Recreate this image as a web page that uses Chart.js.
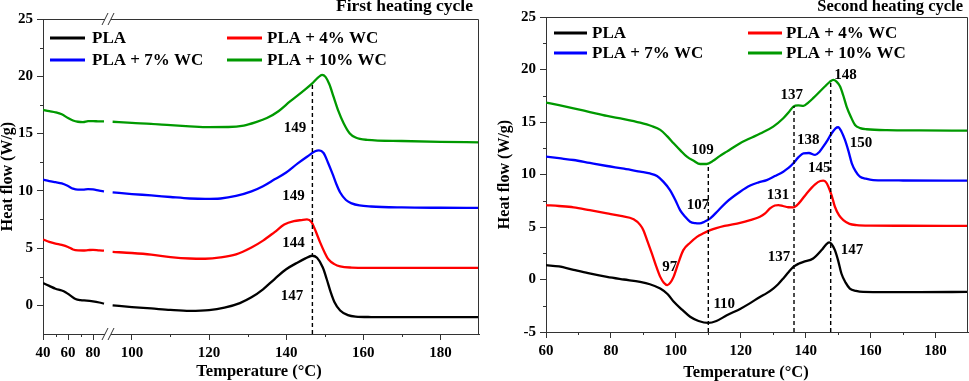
<!DOCTYPE html>
<html>
<head>
<meta charset="utf-8">
<script src="https://cdn.jsdelivr.net/npm/chart.js@4.4.1/dist/chart.umd.min.js"></script>
<style>
  body { margin: 0; background: #fff; width: 969px; height: 381px; position: relative; overflow: hidden; }
  #first { position: absolute; left: 0; top: 0; }
  #second { position: absolute; left: 484px; top: 0; }
</style>
</head>
<body>
<canvas id="first" width="484" height="381"></canvas>
<canvas id="second" width="485" height="381"></canvas>
<script>
// heat flow (W/g) against temperature (°C)

// first heating cycle
const firstPLA = [[40,1.95],[45,1.7],[50,1.45],[55,1.3],[58,1.15],[62,0.85],[66,0.55],[70,0.45],[75,0.42],[80,0.35],[85,0.25],[88.8,0.15],
  [95,0.0],[100,-0.15],[105,-0.27],[110,-0.4],[115,-0.48],[120,-0.42],[124,-0.2],[128,0.2],[131,0.7],[134,1.4],[137,2.3],[140,3.15],[143,3.75],[145,4.1],[146.7,4.33],[148,4.15],[149.5,3.3],[150.5,2.3],[151.5,1.2],[152.5,0.3],[154,-0.45],[156,-0.85],[158,-0.98],[162,-1.02],[170,-1.03],[180,-1.03],[190,-1.03]];
const firstWC4 = [[40,5.75],[45,5.55],[50,5.4],[55,5.28],[60,5.1],[64,4.88],[68,4.8],[72,4.79],[76,4.82],[80,4.85],[85,4.8],[88.8,4.78],
  [95,4.67],[100,4.57],[105,4.43],[110,4.22],[115,4.09],[119,4.07],[123,4.18],[127,4.45],[131,5.05],[134,5.65],[137,6.4],[139.5,7.05],[142,7.35],[144,7.45],[145.4,7.5],[146.5,7.3],[147.5,6.6],[148.8,5.5],[150,4.6],[151,4.0],[152.5,3.6],[154,3.4],[157,3.3],[161,3.28],[170,3.28],[180,3.28],[190,3.28]];
const firstWC7 = [[40,10.98],[45,10.85],[50,10.75],[55,10.65],[60,10.42],[64,10.19],[68,10.1],[72,10.1],[76,10.15],[80,10.12],[85,10.02],[88.8,9.96],
  [95,9.87],[100,9.72],[105,9.6],[110,9.46],[115,9.33],[119,9.29],[123,9.33],[127,9.55],[131,9.95],[134,10.4],[137,11.0],[140,11.6],[143,12.4],[145.5,13.0],[147.5,13.45],[148.5,13.53],[149.7,13.3],[150.8,12.5],[152,11.5],[153,10.6],[154,9.85],[155.5,9.2],[157,8.9],[159,8.72],[162,8.63],[170,8.55],[180,8.52],[190,8.51]];
const firstWC10 = [[40,17.07],[45,16.95],[50,16.85],[55,16.68],[60,16.35],[64,16.14],[68,16.03],[72,16.0],[76,16.08],[80,16.09],[85,16.06],[88.8,16.06],
  [95,16.03],[100,15.93],[105,15.85],[110,15.73],[115,15.63],[120,15.56],[125,15.57],[129,15.7],[132,15.98],[135,16.35],[138,16.95],[141,17.8],[144,18.6],[146.7,19.35],[148.3,19.9],[149.3,20.12],[150.2,19.95],[151.2,19.3],[152.3,18.2],[153.5,17.0],[154.9,15.9],[156.5,15.0],[158,14.65],[161,14.45],[170,14.35],[180,14.28],[190,14.23]];

// second heating cycle
const secondPLA = [[60,1.36],[64,1.25],[68.5,0.92],[73,0.6],[78.8,0.25],[84,0.0],[89,-0.23],[92,-0.45],[95.2,-0.86],[97.5,-1.4],[99.3,-2.1],[102,-2.9],[104.4,-3.55],[107,-3.95],[110,-4.14],[112.5,-3.95],[115.7,-3.41],[119.8,-2.8],[122.9,-2.25],[125.9,-1.66],[128,-1.3],[130,-0.86],[131.5,-0.45],[133.1,0.1],[134.7,0.7],[136.2,1.2],[137.8,1.5],[139.3,1.68],[142.3,2.0],[144.9,2.8],[146.2,3.3],[147.2,3.53],[148,3.35],[149,2.8],[150,1.8],[151,0.57],[152.3,-0.3],[153.6,-0.86],[155.5,-1.08],[157.7,-1.18],[165,-1.2],[175,-1.2],[190,-1.18]];
const secondWC4 = [[60,7.09],[64,7.0],[68.5,6.87],[73.5,6.6],[78.8,6.3],[83,6.05],[87,5.73],[89,5.2],[90,4.7],[91.3,3.6],[92.6,2.48],[93.9,1.3],[95.2,0.25],[96.3,-0.3],[97.4,-0.54],[98.3,-0.3],[99.3,0.25],[100.8,1.6],[102.3,2.8],[104.4,3.5],[106.5,4.06],[108.5,4.4],[110.6,4.7],[115,5.1],[119.8,5.4],[122.9,5.66],[125.9,5.97],[127.5,6.3],[129,6.77],[130.5,7.05],[131.6,7.09],[133,7.0],[134.6,6.88],[136.2,6.87],[138,7.3],[140.3,8.2],[142.9,9.06],[144.5,9.38],[145.4,9.41],[146.3,9.25],[147,8.84],[148,8.0],[149,6.93],[150.3,6.1],[151.6,5.66],[153.5,5.3],[155.7,5.18],[160,5.13],[170,5.12],[190,5.11]];
const secondWC7 = [[60,11.7],[64,11.55],[68.5,11.38],[73.5,11.1],[78.8,10.81],[84,10.55],[89,10.27],[92,10.1],[94.2,9.86],[96.2,9.3],[98.2,8.52],[99.8,7.6],[101.3,6.61],[102.8,6.0],[104.4,5.5],[106,5.36],[107.3,5.34],[108.8,5.5],[110.6,5.82],[113,6.55],[115.7,7.4],[119.8,8.36],[122.9,8.95],[125.5,9.25],[128,9.47],[130.5,9.85],[133.1,10.27],[134.7,10.62],[136.2,11.07],[137.8,11.65],[139.3,12.02],[141,12.05],[142.9,11.86],[144.2,12.15],[145.4,12.65],[146.8,13.3],[148,13.93],[149.2,14.4],[150,14.5],[151,14.1],[152.1,13.29],[153.2,12.2],[154.2,11.07],[155.4,10.3],[156.7,9.79],[158.5,9.6],[160.8,9.47],[170,9.43],[190,9.41]];
const secondWC10 = [[60,16.85],[64,16.6],[68.5,16.3],[73.5,15.95],[78.8,15.58],[84,15.28],[89,14.94],[92.5,14.62],[95.2,14.25],[97.3,13.65],[99.3,12.98],[101.4,12.3],[103.4,11.7],[105.5,11.3],[107.5,11.0],[109.5,11.0],[111.5,11.3],[113.5,11.75],[115.7,12.18],[119.8,12.98],[122.9,13.45],[126,13.9],[130,14.56],[133.1,15.36],[134.7,15.9],[136.2,16.47],[137.7,16.58],[139.3,16.54],[140.8,16.85],[142.3,17.27],[145.9,18.38],[147.5,18.85],[148.5,19.02],[149.5,18.85],[150.6,18.38],[151.6,17.5],[152.6,16.47],[153.9,15.5],[155.2,14.72],[156.8,14.42],[158.8,14.31],[165,14.22],[175,14.2],[190,14.18]];

const seriesNames = ['PLA', 'PLA + 4% WC', 'PLA + 7% WC', 'PLA + 10% WC'];
const seriesColors = ['#000000', '#ff0000', '#0000ff', '#009900'];

// dashed peak markers: [temperature, top of the line]
const firstMarkers = [[146.8, 19.4]];
const secondMarkers = [[110, 11.0], [136.4, 16.5], [147.7, 19.0]];

// peak labels: [text, temperature, heat flow]
const firstLabels = [['149',142.3,15.5],['149',141.9,9.5],['144',141.9,5.45],['147',141.5,0.8]];
const secondLabels = [['109',108.2,12.3],['107',106.8,7.05],['97',98.1,1.2],['110',114.9,-2.3],
  ['148',152.3,19.5],['137',135.7,17.6],['138',140.8,13.3],['150',157,13.0],
  ['145',144.2,10.6],['131',131.5,8.0],['137',131.8,2.15],['147',154.3,2.8]];

// axes (the first x axis is broken between 92 and 93.8)
const firstXLeft = [40, 92];
const firstXRight = [93.8, 190];
const firstXMajorL = [40, 60, 80];
const firstXMinorL = [50, 70];
const firstXMajorR = [100, 120, 140, 160, 180];
const firstXMinorR = [110, 130, 150, 170];
const firstY = [-2.5, 25];
const firstYMajor = [0, 5, 10, 15, 20, 25];
const firstYMinor = [2.5, 7.5, 12.5, 17.5, 22.5];

const secondX = [60, 190];
const secondXMajor = [60, 80, 100, 120, 140, 160, 180];
const secondXMinor = [70, 90, 110, 130, 150, 170];
const secondY = [-5, 25];
const secondYMajor = [-5, 0, 5, 10, 15, 20, 25];
const secondYMinor = [-2.5, 2.5, 7.5, 12.5, 17.5, 22.5];

const FONT = '"Liberation Serif", "Times New Roman", serif';
const AXIS = '#333333';
Chart.defaults.font.family = FONT;
Chart.defaults.font.weight = 'bold';
Chart.defaults.color = '#000';

function pts(arr) {
    return arr.map(p => ({ x: p[0], y: p[1] }));
}

function curve(label, color, data, xAxisID) {
    return {
        label: label,
        data: pts(data),
        xAxisID: xAxisID,
        borderColor: color,
        borderWidth: 2.3,
        pointRadius: 0,
        cubicInterpolationMode: 'monotone',
        order: 2
    };
}

function marker(m, yMin, xAxisID) {
    return {
        label: 'marker',
        data: [{ x: m[0], y: yMin }, { x: m[0], y: m[1] }],
        xAxisID: xAxisID,
        borderColor: '#000',
        borderWidth: 1.4,
        borderDash: [4, 3],
        pointRadius: 0,
        order: 1
    };
}

function xScale(range, major, height, extra) {
    return Object.assign({
        type: 'linear',
        position: 'bottom',
        min: range[0],
        max: range[1],
        afterBuildTicks: s => { s.ticks = major.map(v => ({ value: v })); },
        afterFit: s => { s.height = height; },
        ticks: { autoSkip: false, maxRotation: 0, padding: 4, font: { size: 15, weight: 'bold' }, callback: v => String(v) },
        grid: { display: true, drawOnChartArea: false, tickLength: 6, color: AXIS },
        border: { display: true, color: AXIS, width: 1 }
    }, extra || {});
}

function yScale(range, major, width, titlePad) {
    return {
        type: 'linear',
        position: 'left',
        min: range[0],
        max: range[1],
        afterBuildTicks: s => { s.ticks = major.map(v => ({ value: v })); },
        afterFit: s => { s.width = width; },
        ticks: { padding: 4, font: { size: 15, weight: 'bold' }, callback: v => String(v) },
        grid: { display: true, drawOnChartArea: false, tickLength: 6, color: AXIS },
        border: { display: true, color: AXIS, width: 1 },
        title: { display: true, text: 'Heat flow (W/g)', font: { size: 16, weight: 'bold', lineHeight: 1 }, padding: { top: titlePad, bottom: 0 } }
    };
}

// frame, minor ticks, legend, peak labels, titles and axis breaks
function decorPlugin(cfg) {
    return {
        id: 'decor',
        afterDraw(chart) {
            const ctx = chart.ctx;
            const a = chart.chartArea;
            ctx.save();

            ctx.strokeStyle = AXIS;
            ctx.lineWidth = 1;
            ctx.beginPath();
            ctx.moveTo(Math.round(a.left) + 0.5, Math.round(a.top) + 0.5);
            ctx.lineTo(Math.round(a.right) - 0.5, Math.round(a.top) + 0.5);
            ctx.lineTo(Math.round(a.right) - 0.5, Math.round(a.bottom) + 0.5);
            ctx.stroke();

            cfg.minor.forEach(m => {
                const s = chart.scales[m.axis];
                m.values.forEach(v => {
                    const p = Math.round(s.getPixelForValue(v)) + 0.5;
                    ctx.beginPath();
                    if (s.isHorizontal()) {
                        ctx.moveTo(p, a.bottom);
                        ctx.lineTo(p, a.bottom + 3);
                    } else {
                        ctx.moveTo(a.left - 3, p);
                        ctx.lineTo(a.left, p);
                    }
                    ctx.stroke();
                });
            });

            // legend, two columns
            ctx.font = 'bold 17px ' + FONT;
            ctx.textBaseline = 'middle';
            ctx.textAlign = 'left';
            seriesNames.forEach((name, i) => {
                const col = cfg.legend.cols[i % 2];
                const y = cfg.legend.rows[Math.floor(i / 2)];
                ctx.strokeStyle = seriesColors[i];
                ctx.lineWidth = 3;
                ctx.beginPath();
                ctx.moveTo(col[0], y);
                ctx.lineTo(col[1], y);
                ctx.stroke();
                ctx.fillStyle = '#000';
                ctx.fillText(name, col[2], y + 1);
            });

            const xs = chart.scales[cfg.labelAxis];
            const ys = chart.scales.y;
            ctx.font = 'bold 15px ' + FONT;
            ctx.textAlign = 'center';
            cfg.labels.forEach(l => {
                ctx.fillText(l[0], xs.getPixelForValue(l[1]), ys.getPixelForValue(l[2]));
            });

            cfg.titles.forEach(t => {
                ctx.font = 'bold ' + t.size + 'px ' + FONT;
                ctx.textAlign = t.align;
                ctx.textBaseline = 'alphabetic';
                ctx.fillText(t.text, t.x, t.y);
            });

            if (cfg.breakAxis) {
                const bx = chart.scales[cfg.breakAxis].right;
                [a.top, a.bottom].forEach(by => {
                    ctx.fillStyle = '#fff';
                    ctx.fillRect(bx - 3, by - 2, 6, 4);
                    ctx.strokeStyle = AXIS;
                    ctx.lineWidth = 1;
                    [-3, 3].forEach(off => {
                        ctx.beginPath();
                        ctx.moveTo(bx + off - 3, by + 6);
                        ctx.lineTo(bx + off + 3, by - 6);
                        ctx.stroke();
                    });
                });
            }
            ctx.restore();
        }
    };
}

const firstSeries = [firstPLA, firstWC4, firstWC7, firstWC10];
const firstSets = [];
firstSeries.forEach((s, i) => {
    firstSets.push(curve(seriesNames[i], seriesColors[i], s.filter(p => p[0] <= firstXLeft[1]), 'xa'));
    firstSets.push(curve(seriesNames[i], seriesColors[i], s.filter(p => p[0] > firstXLeft[1]), 'xb'));
});
firstMarkers.forEach(m => firstSets.push(marker(m, firstY[0], 'xb')));

new Chart(document.getElementById('first'), {
    type: 'line',
    data: { datasets: firstSets },
    options: {
        responsive: false,
        animation: false,
        devicePixelRatio: 1,
        layout: { padding: { top: 19, right: 5, left: 0, bottom: 0 } },
        plugins: { legend: { display: false }, tooltip: { enabled: false } },
        scales: {
            xa: xScale(firstXLeft, firstXMajorL, 47, { stack: 'bottomX', stackWeight: 65 }),
            xb: xScale(firstXRight, firstXMajorR, 47, { stack: 'bottomX', stackWeight: 371 }),
            y: yScale(firstY, firstYMajor, 43, 0)
        }
    },
    plugins: [decorPlugin({
        minor: [{ axis: 'xa', values: firstXMinorL }, { axis: 'xb', values: firstXMinorR }, { axis: 'y', values: firstYMinor }],
        legend: { rows: [38, 60], cols: [[50, 85, 92], [227, 262, 267]] },
        labelAxis: 'xb',
        labels: firstLabels,
        titles: [
            { text: 'First heating cycle', x: 473, y: 11, align: 'right', size: 17.5 },
            { text: 'Temperature (°C)', x: 259, y: 376, align: 'center', size: 16.5 }
        ],
        breakAxis: 'xa'
    })]
});

const secondSeries = [secondPLA, secondWC4, secondWC7, secondWC10];
const secondSets = secondSeries.map((s, i) => curve(seriesNames[i], seriesColors[i], s, 'x'));
secondMarkers.forEach(m => secondSets.push(marker(m, secondY[0], 'x')));

new Chart(document.getElementById('second'), {
    type: 'line',
    data: { datasets: secondSets },
    options: {
        responsive: false,
        animation: false,
        devicePixelRatio: 1,
        layout: { padding: { top: 17, right: 1, left: 0, bottom: 0 } },
        plugins: { legend: { display: false }, tooltip: { enabled: false } },
        scales: {
            x: xScale(secondX, secondXMajor, 49),
            y: yScale(secondY, secondYMajor, 62, 13)
        }
    },
    plugins: [decorPlugin({
        minor: [{ axis: 'x', values: secondXMinor }, { axis: 'y', values: secondYMinor }],
        legend: { rows: [33, 53], cols: [[70, 103, 108], [264, 298, 302]] },
        labelAxis: 'x',
        labels: secondLabels,
        titles: [
            { text: 'Second heating cycle', x: 479, y: 11, align: 'right', size: 16.5 },
            { text: 'Temperature (°C)', x: 262, y: 377, align: 'center', size: 16.5 }
        ]
    })]
});
</script>
</body>
</html>
